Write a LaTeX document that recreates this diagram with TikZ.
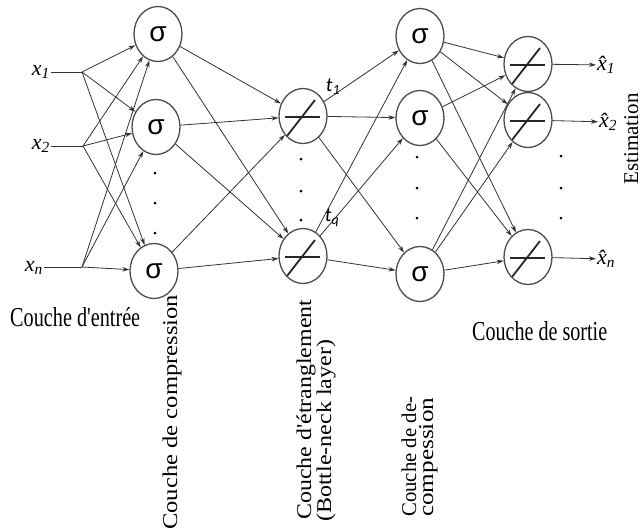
\documentclass[tikz,border=0pt]{standalone}
\usepackage{fontspec}
\setmainfont{Liberation Serif}
\newfontfamily\sigfont{Liberation Sans}
\newfontfamily\tfont{Carlito}
\usetikzlibrary{shapes.geometric,arrows.meta}
\newcommand{\rlab}[2]{\resizebox{#1}{\height}{\fontsize{21}{25}\selectfont #2}}
\begin{document}
\begin{tikzpicture}[x=1pt,y=-1pt,
 neuron/.style={ellipse,draw=black!70,line width=1.3pt,minimum width=48pt,minimum height=55pt,inner sep=0pt},
 sig/.style={neuron,font=\sigfont\fontsize{28}{30}\selectfont},
 lin/.style={neuron, path picture={
   \draw[line width=1.8pt,black!85] ([shift={(-18pt,-1pt)}]path picture bounding box.center) -- ([shift={(17pt,-1pt)}]path picture bounding box.center);
   \draw[line width=1.8pt,black!85] ([shift={(-16pt,-20pt)}]path picture bounding box.center) -- ([shift={(12pt,16pt)}]path picture bounding box.center);}},
 arr/.style={draw=black!80,line width=0.8pt,-{Stealth[length=7pt,width=4.5pt]}},
 conn/.style={draw=black!80,line width=0.8pt},
 dotn/.style={circle,fill=black,inner sep=0pt,minimum size=3pt},
 inlab/.style={font=\fontsize{22}{26}\selectfont\itshape,inner sep=1pt},
 tlab/.style={font=\tfont\itshape\fontsize{20}{24}\selectfont,inner sep=0pt},
 rot/.style={rotate=90,anchor=base west,inner sep=0pt},
]
\useasboundingbox (0,0) rectangle (641,531);

% compression layer
\node[sig] (c1) at (158,34) {σ};
\node[sig] (c2) at (156,127) {σ};
\node[sig] (c3) at (154,271) {σ};
% bottleneck
\node[lin] (b1) at (303,116) {};
\node[lin] (b2) at (303,256) {};
% decompression
\node[sig] (d1) at (420,36) {σ};
\node[sig] (d2) at (420,118) {σ};
\node[sig] (d3) at (420,274) {σ};
% output
\node[lin] (o1) at (528,64) {};
\node[lin] (o2) at (528,120) {};
\node[lin] (o3) at (528,257) {};

% inputs
\node[inlab,anchor=east] (i1) at (51,72) {x\textsubscript{1}};
\node[inlab,anchor=east] (i2) at (51,146) {x\textsubscript{2}};
\node[inlab,anchor=east] (i3) at (44,268) {x\textsubscript{n}};
\coordinate (p1) at (82,72);
\coordinate (p2) at (83,146);
\coordinate (p3) at (82,267);
\draw[conn] (i1.east |- p1) -- (p1);
\draw[conn] (i2.east |- p2) -- (p2);
\draw[conn] (i3.east |- p3) -- (p3);
\foreach \s in {p1,p2,p3} \foreach \t in {c1,c2,c3} \draw[arr] (\s) -- (\t);

% compression -> bottleneck
\foreach \s in {c1,c2,c3} \foreach \t in {b1,b2} \draw[arr] (\s) -- (\t);
% bottleneck -> decompression
\foreach \s in {b1,b2} \foreach \t in {d1,d2,d3} \draw[arr] (\s) -- (\t);
% decompression -> output
\foreach \t in {o1,o2,o3} \draw[arr] (d1) -- (\t);
\foreach \t in {o1,o3} \draw[arr] (d2) -- (\t);
\foreach \t in {o1,o2,o3} \draw[arr] (d3) -- (\t);

% output labels
\node[inlab,anchor=west] (h1) at (596,65) {\^x\textsubscript{1}};
\node[inlab,anchor=west] (h2) at (598,122) {\^x\textsubscript{2}};
\node[inlab,anchor=west] (h3) at (596,259) {\^x\textsubscript{n}};
\draw[arr] (o1) -- (h1);
\draw[arr] (o2) -- (h2);
\draw[arr] (o3) -- (h3);

% t labels
\node[tlab] (t1) at (333,87) {t\textsubscript{1}};
\node[tlab] (tq) at (332,218) {t\textsubscript{q}};

% dots
\foreach \y [count=\k] in {173,203,233} \node[dotn] (dc\k) at (155,\y) {};
\foreach \y [count=\k] in {159,191,220} \node[dotn] (db\k) at (301,\y) {};
\foreach \y [count=\k] in {157,188,218} \node[dotn] (dd\k) at (417,\y) {};
\foreach \y [count=\k] in {156,188,218} \node[dotn] (do\k) at (561,\y) {};

% layer labels
\node[anchor=base west,inner sep=0pt] (lin) at (10,326) {\resizebox{130pt}{19pt}{Couche d\textquotesingle entrée}};
\node[anchor=base west,inner sep=0pt] (lout) at (472,340) {\resizebox{135pt}{19pt}{Couche de sortie}};
\node[rot] (lcomp) at (177,530) {\rlab{235pt}{Couche de compression}};
\node[rot] (lbn1) at (311,520) {\rlab{220pt}{Couche d\textquotesingle étranglement}};
\node[rot] (lbn2) at (331,522) {\rlab{182pt}{(Bottle-neck layer)}};
\node[rot] (ldec1) at (416,517) {\rlab{120pt}{Couche de de-}};
\node[rot] (ldec2) at (433,517) {\rlab{119pt}{compession}};
\node[rotate=90,anchor=base,inner sep=0pt] (lest) at (638,139) {\fontsize{21}{25}\selectfont Estimation};
\end{tikzpicture}
\end{document}
